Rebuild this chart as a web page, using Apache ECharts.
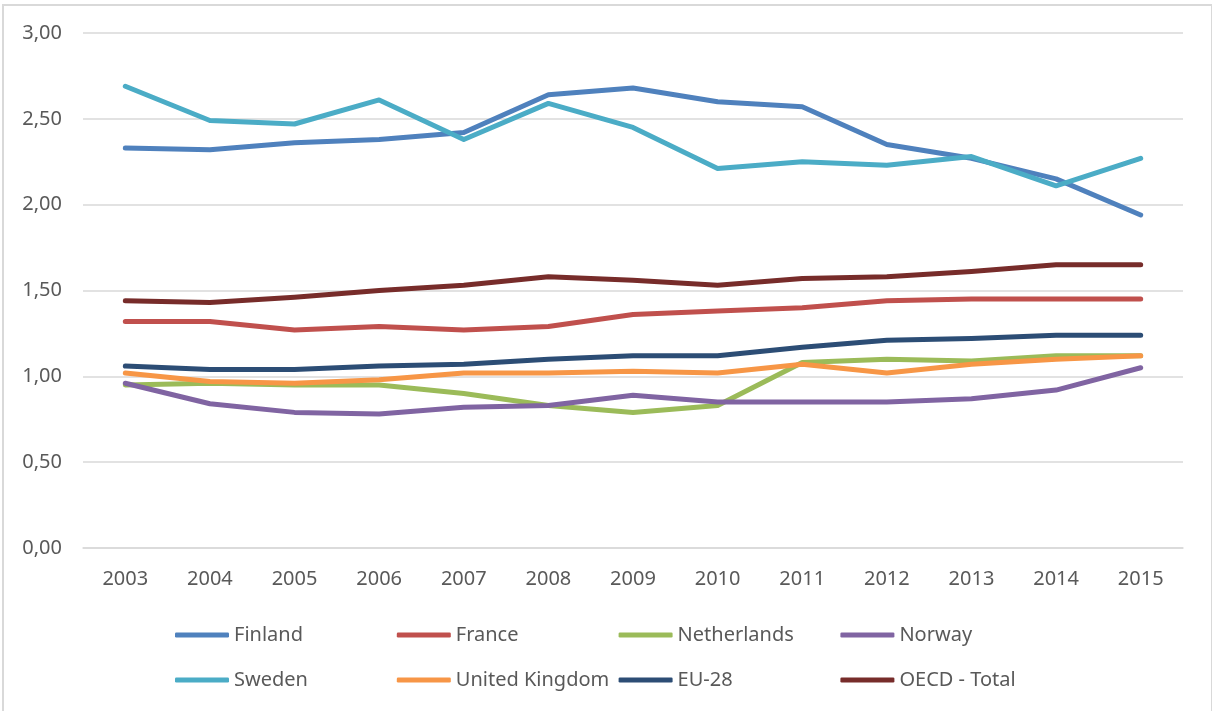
<!DOCTYPE html>
<html>
<head>
<meta charset="utf-8">
<title>Line chart 2003-2015</title>
<script src="https://cdn.jsdelivr.net/npm/echarts@6/dist/echarts.min.js"></script>
<style>
  html, body { margin: 0; padding: 0; background: #fff; }
  .com-container { position: relative; width: 1212px; height: 711px; overflow: hidden; }
  .com-chart { width: 1212px; height: 711px; }
  .frame {
    position: absolute; left: 2px; top: 4px; width: 1207px; height: 720px;
    border: 2px solid #d9d9d9; pointer-events: none;
  }
</style>
</head>
<body>
<div class="com-container">
  <div id="main" class="com-chart"></div>
  <div class="frame"></div>
</div>
<script>
// 数据
const years = ['2003', '2004', '2005', '2006', '2007', '2008', '2009', '2010', '2011', '2012', '2013', '2014', '2015']
const finland = [2.33, 2.32, 2.36, 2.38, 2.42, 2.64, 2.68, 2.60, 2.57, 2.35, 2.27, 2.15, 1.94]
const france = [1.32, 1.32, 1.27, 1.29, 1.27, 1.29, 1.36, 1.38, 1.40, 1.44, 1.45, 1.45, 1.45]
const netherlands = [0.95, 0.96, 0.95, 0.95, 0.90, 0.83, 0.79, 0.83, 1.08, 1.10, 1.09, 1.12, 1.12]
const norway = [0.96, 0.84, 0.79, 0.78, 0.82, 0.83, 0.89, 0.85, 0.85, 0.85, 0.87, 0.92, 1.05]
const sweden = [2.69, 2.49, 2.47, 2.61, 2.38, 2.59, 2.45, 2.21, 2.25, 2.23, 2.28, 2.11, 2.27]
const uk = [1.02, 0.97, 0.96, 0.98, 1.02, 1.02, 1.03, 1.02, 1.07, 1.02, 1.07, 1.10, 1.12]
const eu28 = [1.06, 1.04, 1.04, 1.06, 1.07, 1.10, 1.12, 1.12, 1.17, 1.21, 1.22, 1.24, 1.24]
const oecd = [1.44, 1.43, 1.46, 1.50, 1.53, 1.58, 1.56, 1.53, 1.57, 1.58, 1.61, 1.65, 1.65]

const seriesDefs = [
  { name: 'Finland', data: finland, color: '#4f81bd' },
  { name: 'France', data: france, color: '#c0504d' },
  { name: 'Netherlands', data: netherlands, color: '#9bbb59' },
  { name: 'Norway', data: norway, color: '#8064a2' },
  { name: 'Sweden', data: sweden, color: '#4bacc6' },
  { name: 'United Kingdom', data: uk, color: '#f79646' },
  { name: 'EU-28', data: eu28, color: '#2c4d75' },
  { name: 'OECD - Total', data: oecd, color: '#772c2a' }
]

const fontFamily = '"Noto Sans", sans-serif'
const textColor = '#595959'

// 图例：两行四列
const legends = seriesDefs.map((s, i) => ({
  left: 170 + (i % 4) * 221.8,
  top: i < 4 ? 620 : 665,
  itemWidth: 54,
  itemHeight: 5,
  icon: 'roundRect',
  data: [s.name],
  textStyle: {
    fontFamily: fontFamily,
    fontSize: 20,
    color: textColor
  }
}))

const chartInstance = echarts.init(document.getElementById('main'))
const option = {
  animation: false,
  color: seriesDefs.map(s => s.color),
  grid: {
    left: 83,
    right: 29,
    top: 33,
    bottom: 163,
    containLabel: false
  },
  legend: legends,
  xAxis: {
    type: 'category',
    data: years,
    boundaryGap: true,
    axisLine: { lineStyle: { color: '#d9d9d9', width: 1.5 } },
    axisTick: { show: false },
    axisLabel: {
      fontFamily: fontFamily,
      fontSize: 20,
      color: textColor,
      margin: 21
    }
  },
  yAxis: {
    type: 'value',
    min: 0,
    max: 3,
    interval: 0.5,
    axisLine: { show: false },
    axisTick: { show: false },
    splitLine: { lineStyle: { color: '#d9d9d9', width: 1.5 } },
    axisLabel: {
      fontFamily: fontFamily,
      fontSize: 20,
      color: textColor,
      margin: 21,
      formatter: v => v.toFixed(2).replace('.', ',')
    }
  },
  series: seriesDefs.map(s => ({
    name: s.name,
    type: 'line',
    data: s.data,
    symbol: 'none',
    smooth: false,
    lineStyle: { width: 5, color: s.color, cap: 'round', join: 'round' },
    itemStyle: { color: s.color }
  }))
}
chartInstance.setOption(option)
</script>
</body>
</html>
